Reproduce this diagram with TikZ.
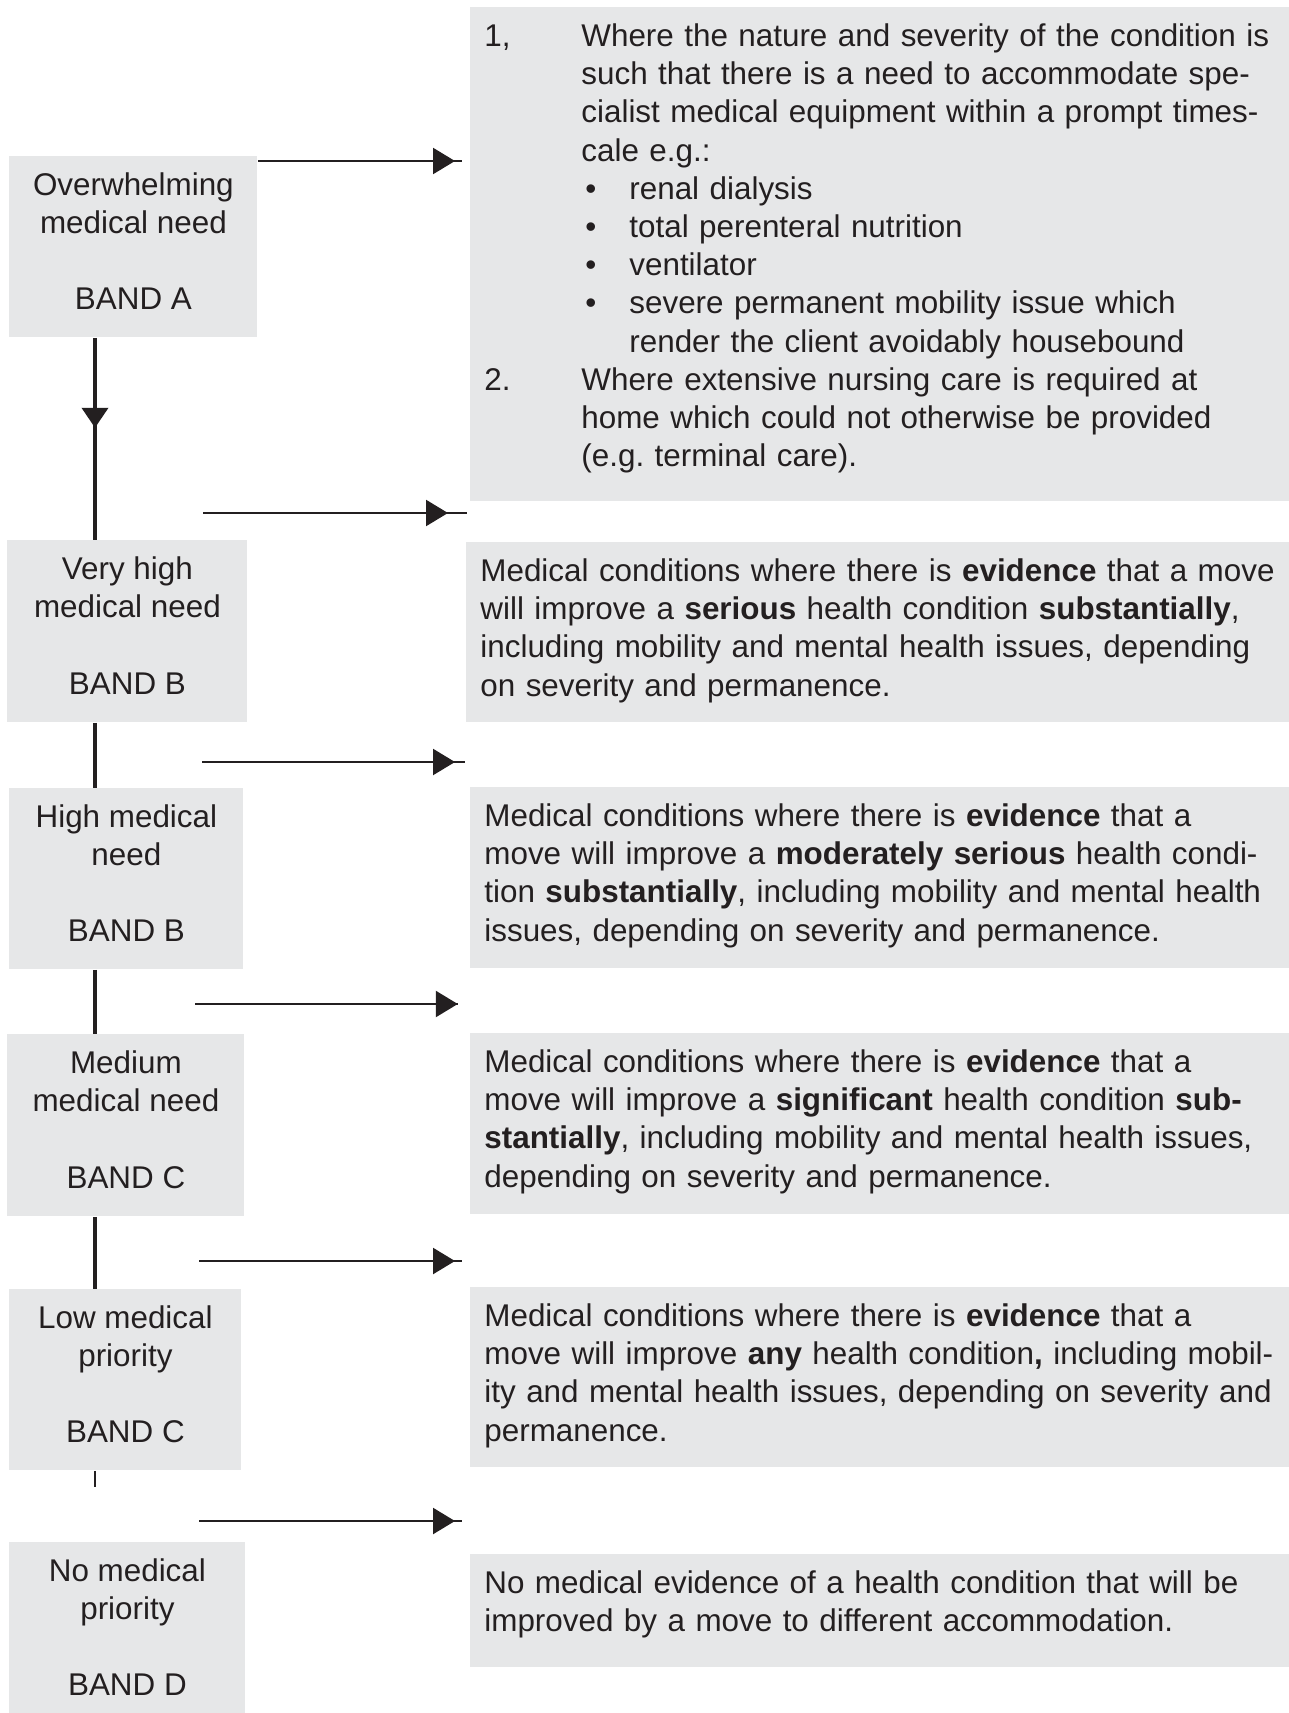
\documentclass[tikz,border=0pt]{standalone}
\usepackage{fontspec}
\setmainfont{Liberation Sans}
\usepackage{tikz}
\usepackage{xcolor}
\usetikzlibrary{arrows.meta,decorations.markings}
\definecolor{bandgrey}{RGB}{230,231,232}
\definecolor{bandink}{RGB}{35,31,32}
\newcommand{\desctop}{\rule{0pt}{19.5pt}}
\newcommand{\descbot}[1]{\rule[-#1]{0pt}{#1}}
\tikzset{
  bandbox/.style = {
    rectangle,
    fill=bandgrey,
    text=bandink,
    anchor=north west,
    align=center,
    inner sep=0pt,
    minimum height=90.5pt,
    font=\fontsize{15.7pt}{19.1pt}\selectfont
  },
  descbox/.style = {
    rectangle,
    fill=bandgrey,
    text=bandink,
    anchor=north west,
    align=left,
    text width=410pt,
    inner xsep=7pt,
    inner ysep=0pt,
    minimum height=90.5pt,
    font=\fontsize{15.7pt}{19.1pt}\selectfont\frenchspacing
  },
  bandline/.style = {
    draw=bandink,
    line width=1.9pt
  },
  bandarrow/.style = {
    color=bandink,
    line width=1.15pt,
    postaction={decorate},
    decoration={markings,
      mark=at position -#1 with {\arrow{Triangle[length=11pt,width=13pt]}}}
  },
  bandarrow/.default=3.5pt,
  downtip/.style = {
    postaction={decorate},
    decoration={markings,
      mark=at position 45pt with {\arrow{Triangle[length=10pt,width=13pt]}}}
  }
}

\begin{document}
\begin{tikzpicture}[x=1pt,y=-1pt]
    \useasboundingbox (0,0) rectangle (644.5,856.5);
    % bands on the left
    \node[bandbox, minimum width=124pt] (overwhelm) at (4.5,78) {Overwhelming\\medical need\\[19.1pt]BAND A\strut};
    \node[bandbox, minimum width=120pt, minimum height=91pt] (veryhigh) at (3.5,270) {Very high\\medical need\\[19.1pt]BAND B\strut};
    \node[bandbox, minimum width=117pt] (high) at (4.5,394) {High medical\\need\\[19.1pt]BAND B\strut};
    \node[bandbox, minimum width=118.5pt, minimum height=91pt] (medium) at (3.5,517) {Medium\\medical need\\[19.1pt]BAND C\strut};
    \node[bandbox, minimum width=116pt] (low) at (4.5,644.5) {Low medical\\priority\\[19.1pt]BAND C\strut};
    \node[bandbox, minimum width=118pt] (nomed) at (4.5,771) {No medical\\priority\\[19.1pt]BAND D\strut};
    % descriptions on the right
    \node[descbox, minimum height=247pt] (overwhelmdesc) at (235,3.5) {%
      \desctop\makebox[48.5pt][l]{1,}Where the nature and severity of the condition is\\
      \hspace*{48.5pt}such that there is a need to accommodate spe-\\
      \hspace*{48.5pt}cialist medical equipment within a prompt times-\\
      \hspace*{48.5pt}cale e.g.:\\
      \hspace*{50.5pt}\makebox[22pt][l]{\textbullet}renal dialysis\\
      \hspace*{50.5pt}\makebox[22pt][l]{\textbullet}total perenteral nutrition\\
      \hspace*{50.5pt}\makebox[22pt][l]{\textbullet}ventilator\\
      \hspace*{50.5pt}\makebox[22pt][l]{\textbullet}severe permanent mobility issue which\\
      \hspace*{72.5pt}render the client avoidably housebound\\
      \makebox[48.5pt][l]{2.}Where extensive nursing care is required at\\
      \hspace*{48.5pt}home which could not otherwise be provided\\
      \hspace*{48.5pt}(e.g. terminal care).\descbot{17.4pt}};
    \node[descbox, minimum height=90pt] (veryhighdesc) at (233,271) {\desctop Medical conditions where there is \textbf{evidence} that a move\\will improve a \textbf{serious} health condition \textbf{substantially},\\including mobility and mental health issues, depending\\on severity and permanence.\descbot{13.2pt}};
    \node[descbox] (highdesc) at (235,393.5) {\desctop Medical conditions where there is \textbf{evidence} that a\\move will improve a \textbf{moderately serious} health condi-\\tion \textbf{substantially}, including mobility and mental health\\issues, depending on severity and permanence.\descbot{13.7pt}};
    \node[descbox] (mediumdesc) at (235,516.5) {\desctop Medical conditions where there is \textbf{evidence} that a\\move will improve a \textbf{significant} health condition \textbf{sub-}\\\textbf{stantially}, including mobility and mental health issues,\\depending on severity and permanence.\descbot{13.7pt}};
    \node[descbox, minimum height=90pt] (lowdesc) at (235,643.5) {\desctop Medical conditions where there is \textbf{evidence} that a\\move will improve \textbf{any} health condition\textbf{,} including mobil-\\ity and mental health issues, depending on severity and\\permanence.\descbot{13.2pt}};
    \node[descbox, minimum height=56.5pt] (nomeddesc) at (235,777) {\desctop No medical evidence of a health condition that will be\\improved by a move to different accommodation.\descbot{17.9pt}};
    % the spine
    \coordinate (spine) at (47.5,0);
    \coordinate (lowtick) at (47.5,743.5);
    \draw[bandline, downtip] (overwhelm.south -| spine) -- (veryhigh.north -| spine);
    \draw[bandline] (veryhigh.south -| spine) -- (high.north -| spine);
    \draw[bandline] (high.south -| spine) -- (medium.north -| spine);
    \draw[bandline] (medium.south -| spine) -- (low.north -| spine);
    \draw[bandline, line width=1.1pt] (low.south -| spine) -- (lowtick);
    % arrows across
    \coordinate (toA) at (231,80.5);
    \coordinate (fromB1) at (101.5,256.5);
    \coordinate (toB1) at (233.5,256.5);
    \coordinate (fromB2) at (101,381);
    \coordinate (toB2) at (232.5,381);
    \coordinate (fromC1) at (97.5,502);
    \coordinate (toC1) at (229,502);
    \coordinate (fromC2) at (99.5,630.5);
    \coordinate (toC2) at (231,630.5);
    \coordinate (fromD) at (99.5,760.5);
    \coordinate (toD) at (231,760.5);
    \draw[bandarrow] ([yshift=-2.5pt]overwhelm.north east) -- (toA);
    \draw[bandarrow=9.5pt] (fromB1) -- (toB1);
    \draw[bandarrow=5pt] (fromB2) -- (toB2);
    \draw[bandarrow=0.1pt] (fromC1) -- (toC1);
    \draw[bandarrow] (fromC2) -- (toC2);
    \draw[bandarrow] (fromD) -- (toD);
\end{tikzpicture}
\end{document}
